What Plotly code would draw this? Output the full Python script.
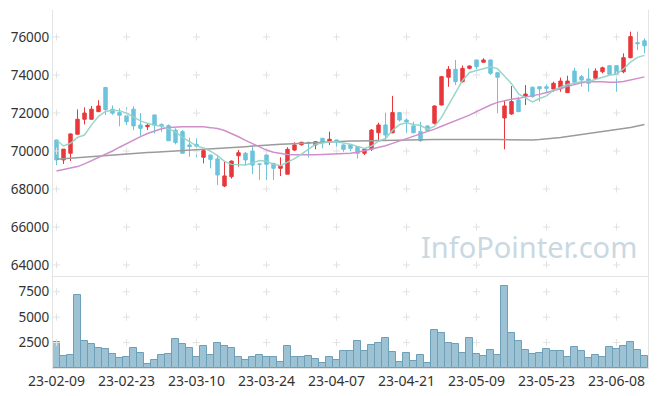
import plotly.graph_objects as go

tick_idx = [0, 10, 20, 30, 40, 50, 60, 70, 80]
tick_labels = ["23-02-09", "23-02-23", "23-03-10", "23-03-24", "23-04-07",
               "23-04-21", "23-05-09", "23-05-23", "23-06-08"]

opens = [70580, 69530, 69880, 70880, 71670, 71670, 72070, 73340, 72200, 72020,
         71850, 72200, 71370, 71280, 71900, 71400, 71330, 71100, 71020, 70320,
         70350, 69670, 69790, 69580, 68160, 68650, 69750, 69880, 70000, 69320,
         69790, 69350, 69090, 68780, 70050, 70330, 70450, 70320, 70670, 70490,
         70580, 70320, 70320, 70230, 69880, 70090, 70960, 71370, 70960, 72020,
         71630, 71320, 71020, 71320, 71460, 72420, 73880, 74300, 73650, 74350,
         74790, 74670, 74790, 74120, 71740, 71950, 72690, 72900, 73350, 73380,
         73380, 73260, 73270, 73070, 74210, 73910, 73790, 73830, 74170, 74490,
         74490, 74170, 74910, 75700, 75800]
highs = [70600, 70100, 70920, 72190, 72300, 72370, 72670, 73340, 72400, 72250,
         72300, 72350, 72000, 71450, 71900, 71450, 71400, 71200, 71100, 70700,
         70670, 70100, 69800, 69800, 69470, 69500, 70050, 69950, 70260, 69350,
         69960, 69350, 69670, 70200, 70460, 70480, 70500, 70520, 70680, 71020,
         70600, 70350, 70350, 70250, 70100, 71150, 71490, 72020, 72900, 72050,
         71720, 71540, 71540, 71350, 72400, 73950, 74470, 74790, 74500, 74500,
         74800, 74880, 74800, 74150, 72680, 73420, 72850, 73470, 73400, 73400,
         73510, 73650, 73860, 73960, 74380, 74000, 74350, 74350, 74440, 74500,
         74500, 75140, 76280, 76280, 75930]
lows = [69250, 69320, 69470, 70880, 71400, 71650, 72070, 71900, 71900, 71300,
        71370, 71100, 70800, 71100, 70930, 71010, 70540, 70350, 69880, 69700,
        69670, 69350, 69090, 68210, 68100, 68550, 69180, 69260, 68790, 68480,
        68470, 68470, 68680, 68780, 70000, 70280, 69650, 70090, 70140, 70320,
        70230, 69960, 69990, 69600, 69790, 70000, 70490, 70580, 70930, 71550,
        70960, 70930, 70490, 71000, 71400, 72400, 73380, 73470, 73600, 74300,
        74300, 74650, 74000, 71980, 70090, 71900, 72050, 72420, 72800, 72600,
        73040, 73120, 73120, 73070, 73470, 73380, 73120, 73740, 74090, 74030,
        73120, 74090, 74880, 75320, 75140]
closes = [69530, 70100, 70900, 71670, 72000, 72200, 72370, 72180, 71990, 71880,
          71540, 71320, 71190, 71350, 71370, 71320, 70540, 70450, 69880, 70230,
          70250, 70020, 69560, 68740, 68690, 69470, 69910, 69530, 69260, 69300,
          69300, 69090, 69210, 70090, 70320, 70460, 70400, 70490, 70460, 70620,
          70490, 70090, 70140, 69880, 70090, 71100, 71370, 70840, 72020, 71630,
          71540, 70960, 70540, 71070, 72370, 73910, 74300, 73650, 74350, 74470,
          74440, 74790, 74090, 73880, 72370, 72600, 72070, 73000, 72860, 73270,
          73300, 73560, 73680, 73680, 73620, 73740, 73560, 74210, 74380, 74040,
          74040, 74910, 76020, 75650, 75540]
volume = [2533, 1160, 1258, 7140, 2631, 2337, 1944, 1846, 1356, 964,
          1062, 1944, 1454, 376, 768, 1258, 1356, 2827, 2337, 1944,
          1062, 2141, 1258, 2435, 2141, 1944, 1062, 768, 1062, 1258,
          1062, 1062, 572, 2141, 1062, 1062, 1160, 866, 474, 1062,
          768, 1650, 1650, 2631, 1650, 2239, 2435, 2925, 1552, 572,
          1454, 670, 1258, 474, 3709, 3415, 2435, 2337, 1454, 2925,
          1356, 1160, 1748, 1258, 8023, 3415, 2631, 1748, 1356, 1454,
          1846, 1650, 1650, 1062, 2043, 1650, 964, 1258, 1062, 2043,
          1846, 2141, 2533, 1748, 1160]
ma5 = [70580, 70263, 70405, 70720, 70840, 71374, 71828, 72084, 72148, 72124,
       71992, 71782, 71584, 71456, 71354, 71310, 71154, 71006, 70712, 70484,
       70270, 70166, 69988, 69760, 69452, 69296, 69274, 69268, 69372, 69494,
       69460, 69296, 69232, 69398, 69602, 69834, 70096, 70352, 70426, 70486,
       70492, 70430, 70360, 70244, 70138, 70260, 70516, 70656, 71084, 71392,
       71480, 71398, 71338, 71148, 71296, 71770, 72438, 73060, 73716, 74136,
       74242, 74340, 74428, 74334, 73914, 73546, 73002, 72784, 72580, 72760,
       72900, 73200, 73336, 73500, 73570, 73658, 73658, 73764, 73904, 73988,
       74048, 74318, 74678, 74930, 75032]
ma20 = [68950, 69020, 69090, 69180, 69320, 69480, 69650, 69820, 70000, 70200,
        70400, 70580, 70760, 70920, 71060, 71170, 71240, 71270, 71280, 71280,
        71280, 71270, 71230, 71180, 71080, 70930, 70750, 70560, 70380, 70200,
        70050, 69940, 69870, 69820, 69800, 69790, 69790, 69800, 69810, 69820,
        69830, 69850, 69880, 69940, 70020, 70100, 70180, 70280, 70400, 70520,
        70640, 70760, 70880, 71000, 71150, 71300, 71440, 71590, 71740, 71890,
        72070, 72250, 72420, 72560, 72660, 72730, 72770, 72830, 72900, 72980,
        73080, 73170, 73280, 73400, 73510, 73590, 73640, 73650, 73640, 73620,
        73620, 73660, 73730, 73810, 73900]
ma60 = [69560, 69590, 69620, 69650, 69680, 69710, 69740, 69770, 69800, 69830,
        69860, 69880, 69900, 69920, 69940, 69960, 69980, 70000, 70020, 70040,
        70060, 70080, 70100, 70120, 70140, 70170, 70200, 70230, 70260, 70290,
        70310, 70330, 70350, 70370, 70390, 70410, 70430, 70450, 70470, 70490,
        70500, 70510, 70520, 70530, 70540, 70550, 70560, 70570, 70580, 70585,
        70590, 70595, 70600, 70600, 70605, 70610, 70615, 70620, 70620, 70620,
        70620, 70615, 70610, 70600, 70590, 70580, 70570, 70570, 70580, 70600,
        70630, 70670, 70710, 70760, 70810, 70860, 70910, 70960, 71010, 71060,
        71110, 71170, 71240, 71320, 71400]
price_ticks = [64000, 66000, 68000, 70000, 72000, 74000, 76000]
vol_ticks = [2500, 5000, 7500]

idx = list(range(len(closes)))

fig = go.Figure()

# plus-shaped grid marks
gx, gy = [], []
for t in tick_idx:
    for p in price_ticks:
        gx.append(t); gy.append(p)
fig.add_trace(go.Scatter(x=gx, y=gy, mode="markers", hoverinfo="skip",
                         marker=dict(symbol="cross-thin", size=5,
                                     line=dict(color="#e2e2e2", width=1)),
                         xaxis="x", yaxis="y"))
vx, vy = [], []
for t in tick_idx:
    for v in vol_ticks:
        vx.append(t); vy.append(v)
fig.add_trace(go.Scatter(x=vx, y=vy, mode="markers", hoverinfo="skip",
                         marker=dict(symbol="cross-thin", size=5,
                                     line=dict(color="#e2e2e2", width=1)),
                         xaxis="x", yaxis="y2"))

fig.add_trace(go.Scatter(x=idx, y=ma60, mode="lines",
                         line=dict(color="#9b9b9b", width=1.5), xaxis="x", yaxis="y"))
fig.add_trace(go.Scatter(x=idx, y=ma20, mode="lines",
                         line=dict(color="#cf8fcb", width=1.5), xaxis="x", yaxis="y"))

fig.add_trace(go.Candlestick(
    x=idx, open=opens, high=highs, low=lows, close=closes,
    increasing=dict(line=dict(color="#e8383c", width=1), fillcolor="#e8383c"),
    decreasing=dict(line=dict(color="#6cc3dc", width=1), fillcolor="#6cc3dc"),
    whiskerwidth=0, xaxis="x", yaxis="y", hoverinfo="skip"))

fig.add_trace(go.Scatter(x=idx, y=ma5, mode="lines",
                         line=dict(color="#93d5c7", width=1.5), opacity=0.95,
                         xaxis="x", yaxis="y"))

fig.add_trace(go.Bar(x=idx, y=volume, width=1,
                     marker=dict(color="#9cc2d3", line=dict(color="#6e9fb8", width=1)),
                     xaxis="x", yaxis="y2", hoverinfo="skip"))

# page body has an 8px margin: figure is 649x388 drawn at (8, 8)
split = 91 / 358
fig.update_layout(
    width=649, height=388,
    margin=dict(l=45, r=9, t=2, b=28),
    paper_bgcolor="white", plot_bgcolor="white",
    showlegend=False, bargap=0,
    font=dict(family="Noto Sans", color="#333333", size=14),
    xaxis=dict(domain=[0, 1], range=[-0.5, 84.5], anchor="y2",
               tickmode="array", tickvals=tick_idx, ticktext=tick_labels,
               showgrid=False, zeroline=False, ticks="", automargin=False,
               showline=True, mirror=True, linecolor="#e4e4e4",
               rangeslider=dict(visible=False),
               tickfont=dict(size=14, color="#333333")),
    yaxis=dict(domain=[split, 1], range=[63370, 77420],
               tickmode="array", tickvals=price_ticks,
               ticktext=[str(v) for v in price_ticks], automargin=False,
               showgrid=False, zeroline=False, ticks="",
               showline=True, mirror=True, linecolor="#e4e4e4",
               tickfont=dict(size=13.5, color="#333333")),
    yaxis2=dict(domain=[0, split], range=[0, 8950],
                tickmode="array", tickvals=vol_ticks,
                ticktext=[str(v) for v in vol_ticks], automargin=False,
                showgrid=False, zeroline=False, ticks="",
                showline=True, mirror=True, linecolor="#e4e4e4",
                tickfont=dict(size=13.5, color="#333333")),
    annotations=[dict(text="InfoPointer.com", xref="paper", yref="paper",
                      x=0.985, y=split + 0.025, xanchor="right", yanchor="bottom",
                      showarrow=False,
                      font=dict(family="Noto Sans", size=29, color="#c9d8e1"))],
)

fig.write_html("out.html")
